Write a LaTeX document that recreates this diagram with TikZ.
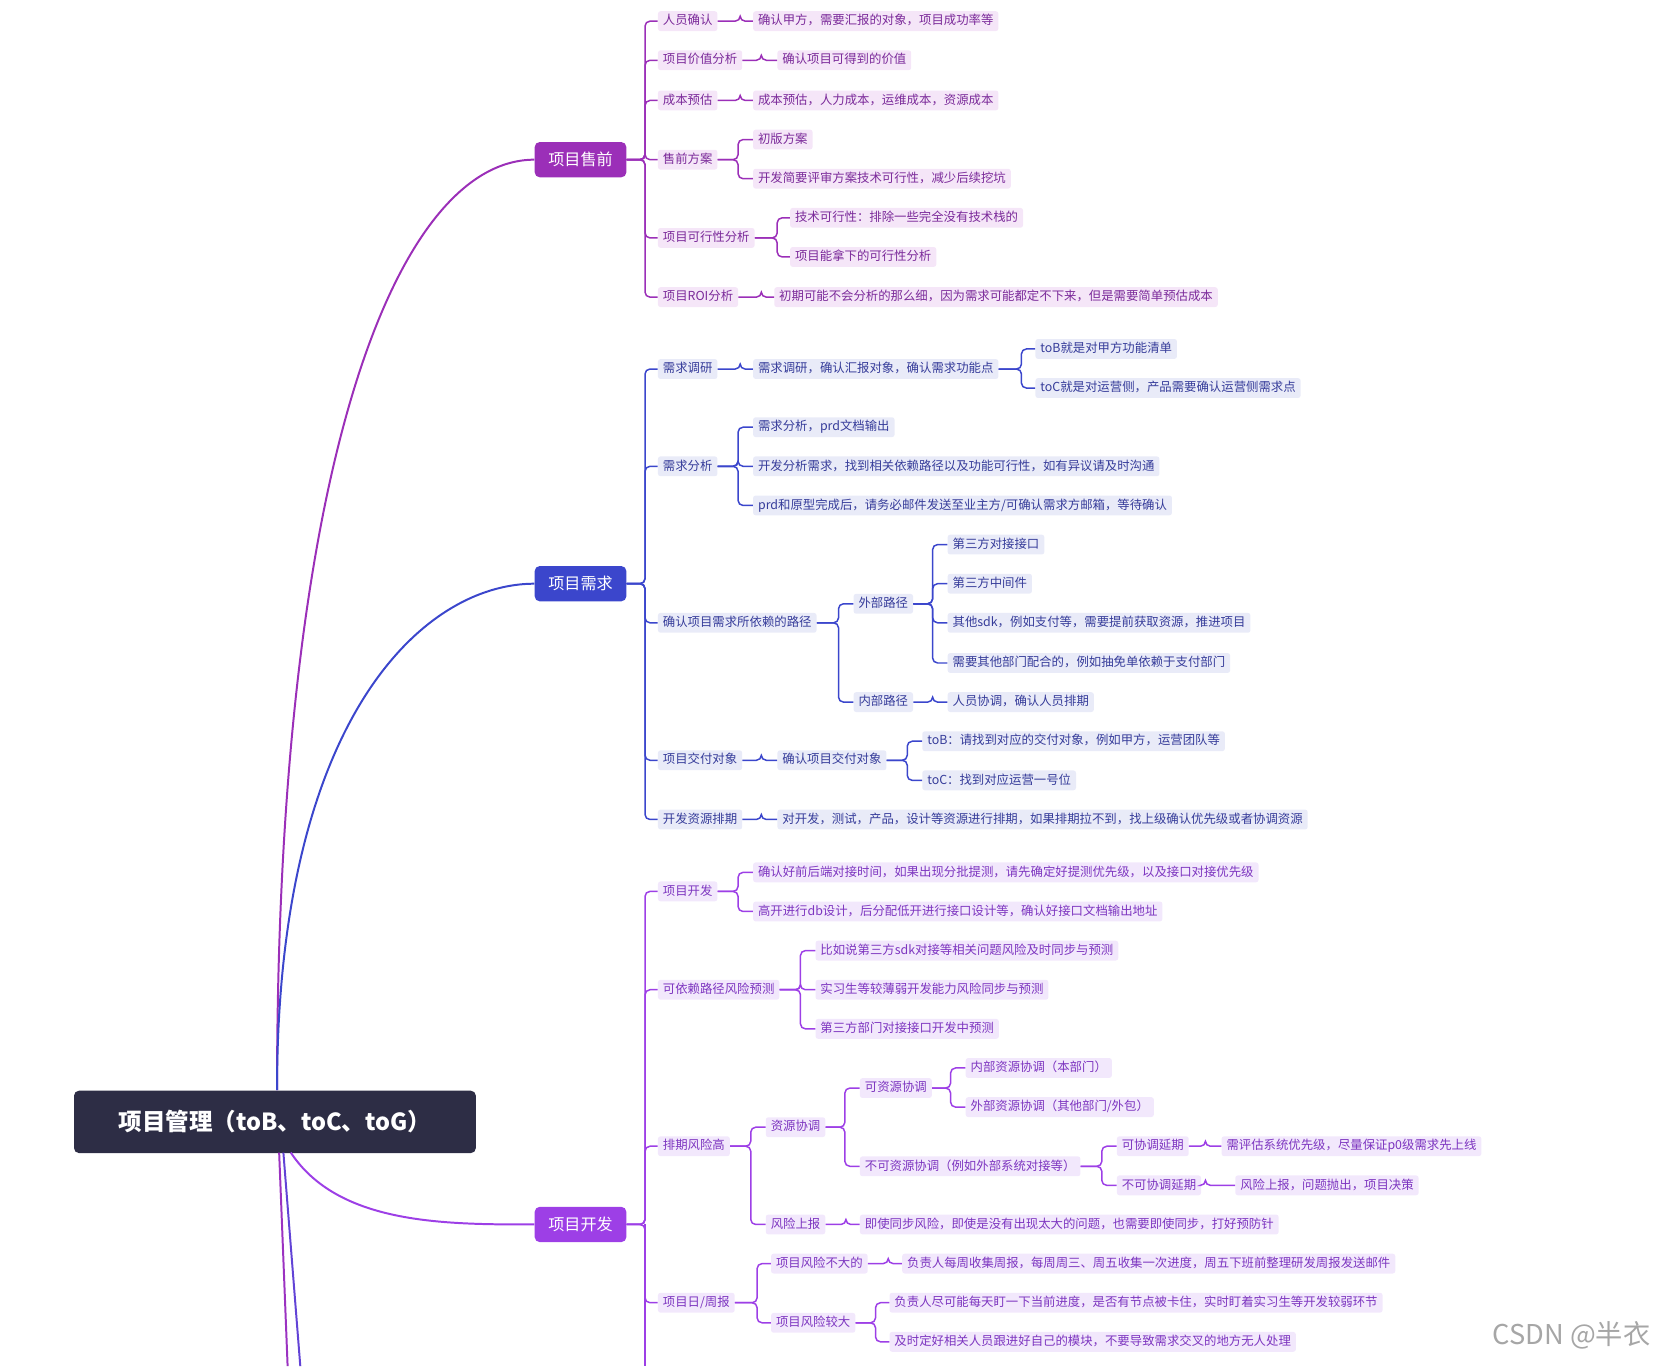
\documentclass[tikz,border=0pt]{standalone}
\usepackage{fontspec}
\newfontfamily\cjk{Noto Sans CJK SC}
\definecolor{lA}{HTML}{9B2FB8}\definecolor{tA}{HTML}{7B2A9A}\definecolor{fA}{HTML}{F5E6F8}
\definecolor{lB}{HTML}{3B46CC}\definecolor{tB}{HTML}{363C9A}\definecolor{fB}{HTML}{E9EBF8}
\definecolor{lC}{HTML}{9D3FE6}\definecolor{tC}{HTML}{7D35C0}\definecolor{fC}{HTML}{F2E8FC}
\definecolor{rootc}{HTML}{2D2D45}
\tikzset{
 x=0.03cm,y=-0.03cm,
 leaf/.style={anchor=west,inner xsep=4pt,inner ysep=2.5pt,rounded corners=2pt,font=\cjk\fontsize{10}{12}\selectfont,text height=8.5pt,text depth=2.5pt},
 lfA/.style={leaf,fill=fA,text=tA},lfB/.style={leaf,fill=fB,text=tB},lfC/.style={leaf,fill=fC,text=tC},
 mainn/.style={rounded corners=4pt,text=white,font=\cjk\fontsize{13}{15}\selectfont,minimum width=2.6cm,minimum height=1.0cm},
 eA/.style={draw=lA,line width=1.2pt,rounded corners=4pt},
 eB/.style={draw=lB,line width=1.2pt,rounded corners=4pt},
 eC/.style={draw=lC,line width=1.2pt,rounded corners=4pt},
}
\newcommand{\ed}[4]{\coordinate (tmpb) at (#4,0);\draw[#1] (#2.east) -- (#2.east -| tmpb) |- (#3.west);}
\begin{document}
\begin{tikzpicture}
\useasboundingbox (0,0) rectangle (1568,1292);
% root and mains
\node[fill=rootc,rounded corners=4pt,text=white,font=\cjk\bfseries\fontsize{19}{22}\selectfont,minimum width=11.4cm,minimum height=1.77cm] (root) at (260,1061) {项目管理（toB、toC、toG）};
\node[mainn,fill=lA] (sq) at (549,151) {项目售前};
\node[mainn,fill=lB] (xq) at (549,552) {项目需求};
\node[mainn,fill=lC] (kf) at (549,1158) {项目开发};
\coordinate (r1) at (262,1031);\coordinate (r2) at (275,1090);
\coordinate (off1) at (272,1292);\coordinate (off2) at (284,1292);\coordinate (r3) at (264,1090);\coordinate (r4) at (268,1090);
\draw[lA,line width=1.6pt] (r1) .. controls (262,420) and (380,151) .. (sq.west);
\draw[lB,line width=1.6pt] (r1) .. controls (262,680) and (400,552) .. (xq.west);
\draw[lC,line width=1.6pt] (r2) .. controls (320,1158) and (420,1158) .. (kf.west);
\draw[lA!80!lC,line width=1.6pt] (r3) -- (off1);
\draw[lB!60!lC,line width=1.6pt] (r4) -- (off2);
% section A
\node[lfA] (a1) at (622,20) {人员确认};
\node[lfA] (a11) at (712,20) {确认甲方，需要汇报的对象，项目成功率等};
\node[lfA] (a2) at (622,57) {项目价值分析};
\node[lfA] (a21) at (735,57) {确认项目可得到的价值};
\node[lfA] (a3) at (622,95) {成本预估};
\node[lfA] (a31) at (712,95) {成本预估，人力成本，运维成本，资源成本};
\node[lfA] (a4) at (622,151) {售前方案};
\node[lfA] (a41) at (712,132) {初版方案};
\node[lfA] (a42) at (712,169) {开发简要评审方案技术可行性，减少后续挖坑};
\node[lfA] (a5) at (622,225) {项目可行性分析};
\node[lfA] (a51) at (747,206) {技术可行性：排除一些完全没有技术栈的};
\node[lfA] (a52) at (747,243) {项目能拿下的可行性分析};
\node[lfA] (a6) at (622,281) {项目ROI分析};
\node[lfA] (a61) at (732,281) {初期可能不会分析的那么细，因为需求可能都定不下来，但是需要简单预估成本};
\foreach \c in {a1,a2,a3,a4,a5,a6}{\ed{eA}{sq}{\c}{610}}
\ed{eA}{a1}{a11}{700}\ed{eA}{a2}{a21}{720}\ed{eA}{a3}{a31}{700}
\ed{eA}{a4}{a41}{698}\ed{eA}{a4}{a42}{698}
\ed{eA}{a5}{a51}{735}\ed{eA}{a5}{a52}{735}\ed{eA}{a6}{a61}{720}
% section B
\node[lfB] (b1) at (622,349) {需求调研};
\node[lfB] (b11) at (712,349) {需求调研，确认汇报对象，确认需求功能点};
\node[lfB] (b111) at (979,330) {toB就是对甲方功能清单};
\node[lfB] (b112) at (979,367) {toC就是对运营侧，产品需要确认运营侧需求点};
\node[lfB] (b2) at (622,441) {需求分析};
\node[lfB] (b21) at (712,404) {需求分析，prd文档输出};
\node[lfB] (b22) at (712,441) {开发分析需求，找到相关依赖路径以及功能可行性，如有异议请及时沟通};
\node[lfB] (b23) at (712,478) {prd和原型完成后，请务必邮件发送至业主方/可确认需求方邮箱，等待确认};
\node[lfB] (b3) at (622,589) {确认项目需求所依赖的路径};
\node[lfB] (b31) at (807,571) {外部路径};
\node[lfB] (b311) at (896,515) {第三方对接接口};
\node[lfB] (b312) at (896,552) {第三方中间件};
\node[lfB] (b313) at (896,589) {其他sdk，例如支付等，需要提前获取资源，推进项目};
\node[lfB] (b314) at (896,627) {需要其他部门配合的，例如抽免单依赖于支付部门};
\node[lfB] (b32) at (807,664) {内部路径};
\node[lfB] (b321) at (896,664) {人员协调，确认人员排期};
\node[lfB] (b4) at (622,719) {项目交付对象};
\node[lfB] (b41) at (735,719) {确认项目交付对象};
\node[lfB] (b411) at (872,701) {toB：请找到对应的交付对象，例如甲方，运营团队等};
\node[lfB] (b412) at (872,738) {toC：找到对应运营一号位};
\node[lfB] (b5) at (622,775) {开发资源排期};
\node[lfB] (b51) at (735,775) {对开发，测试，产品，设计等资源进行排期，如果排期拉不到，找上级确认优先级或者协调资源};
\foreach \c in {b1,b2,b3,b4,b5}{\ed{eB}{xq}{\c}{610}}
\ed{eB}{b1}{b11}{700}\ed{eB}{b11}{b111}{966}\ed{eB}{b11}{b112}{966}
\ed{eB}{b2}{b21}{698}\ed{eB}{b2}{b22}{698}\ed{eB}{b2}{b23}{698}
\ed{eB}{b3}{b31}{793}\ed{eB}{b3}{b32}{793}
\foreach \c in {b311,b312,b313,b314}{\ed{eB}{b31}{\c}{882}}
\ed{eB}{b32}{b321}{882}
\ed{eB}{b4}{b41}{720}\ed{eB}{b41}{b411}{858}\ed{eB}{b41}{b412}{858}
\ed{eB}{b5}{b51}{720}
% section C
\node[lfC] (c1) at (622,843) {项目开发};
\node[lfC] (c11) at (712,825) {确认好前后端对接时间，如果出现分批提测，请先确定好提测优先级，以及接口对接优先级};
\node[lfC] (c12) at (712,862) {高开进行db设计，后分配低开进行接口设计等，确认好接口文档输出地址};
\node[lfC] (c2) at (622,936) {可依赖路径风险预测};
\node[lfC] (c21) at (771,899) {比如说第三方sdk对接等相关问题风险及时同步与预测};
\node[lfC] (c22) at (771,936) {实习生等较薄弱开发能力风险同步与预测};
\node[lfC] (c23) at (771,973) {第三方部门对接接口开发中预测};
\node[lfC] (c3) at (622,1084) {排期风险高};
\node[lfC] (c31) at (724,1066) {资源协调};
\node[lfC] (c311) at (813,1029) {可资源协调};
\node[lfC] (c3111) at (913,1010) {内部资源协调（本部门）};
\node[lfC] (c3112) at (913,1047) {外部资源协调（其他部门/外包）};
\node[lfC] (c312) at (813,1103) {不可资源协调（例如外部系统对接等）};
\node[lfC] (c3121) at (1056,1084) {可协调延期};
\node[lfC] (c31211) at (1155,1084) {需评估系统优先级，尽量保证p0级需求先上线};
\node[lfC] (c3122) at (1056,1121) {不可协调延期};
\node[lfC] (c31221) at (1168,1121) {风险上报，问题抛出，项目决策};
\node[lfC] (c32) at (724,1158) {风险上报};
\node[lfC] (c321) at (813,1158) {即使同步风险，即使是没有出现太大的问题，也需要即使同步，打好预防针};
\node[lfC] (c4) at (622,1232) {项目日/周报};
\node[lfC] (c41) at (729,1195) {项目风险不大的};
\node[lfC] (c411) at (853,1195) {负责人每周收集周报，每周周三、周五收集一次进度，周五下班前整理研发周报发送邮件};
\node[lfC] (c42) at (729,1251) {项目风险较大};
\node[lfC] (c421) at (841,1232) {负责人尽可能每天盯一下当前进度，是否有节点被卡住，实时盯着实习生等开发较弱环节};
\node[lfC] (c422) at (841,1269) {及时定好相关人员跟进好自己的模块，不要导致需求交叉的地方无人处理};
\foreach \c in {c1,c2,c3,c4}{\ed{eC}{kf}{\c}{610}}
\coordinate (cend) at (610,1292);
\draw[eC] (kf.east -| cend) -- (cend);
\ed{eC}{c1}{c11}{698}\ed{eC}{c1}{c12}{698}
\foreach \c in {c21,c22,c23}{\ed{eC}{c2}{\c}{757}}
\ed{eC}{c3}{c31}{710}\ed{eC}{c3}{c32}{710}
\ed{eC}{c31}{c311}{799}\ed{eC}{c31}{c312}{799}
\ed{eC}{c311}{c3111}{899}\ed{eC}{c311}{c3112}{899}
\ed{eC}{c312}{c3121}{1042}\ed{eC}{c312}{c3122}{1042}
\ed{eC}{c3121}{c31211}{1140}\ed{eC}{c3122}{c31221}{1140}
\ed{eC}{c32}{c321}{800}
\ed{eC}{c4}{c41}{716}\ed{eC}{c4}{c42}{716}
\ed{eC}{c41}{c411}{840}\ed{eC}{c42}{c421}{828}\ed{eC}{c42}{c422}{828}
% watermark
\node[anchor=east,text=gray!70,font=\cjk\fontsize{22}{24}\selectfont] (wm) at (1565,1263) {CSDN @半衣};
\end{tikzpicture}
\end{document}
